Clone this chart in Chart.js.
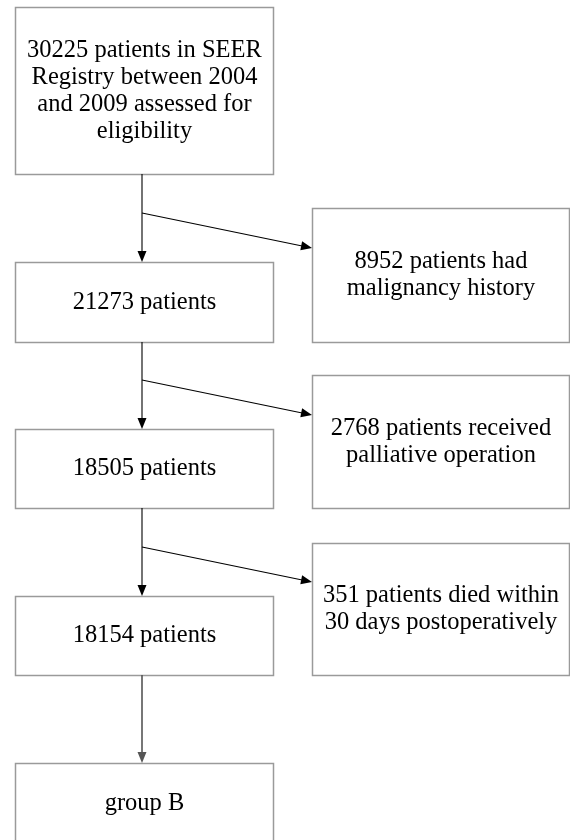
<!DOCTYPE html>
<html>
<head>
<meta charset="utf-8">
<script src="https://cdn.jsdelivr.net/npm/chart.js@4/dist/chart.umd.min.js"></script>
<style>
  html, body { margin: 0; padding: 0; background: #fff; }
  canvas { display: block; }
</style>
</head>
<body>
<canvas id="flow" width="570" height="840"></canvas>
<script>
'use strict';

// flow numbers
const remaining = [30225, 21273, 18505, 18154];
const excluded = [8952, 2768, 351];
const mainLabels = [
  ['30225 patients in SEER', 'Registry between 2004', 'and 2009 assessed for', 'eligibility'],
  ['21273 patients'],
  ['18505 patients'],
  ['18154 patients'],
  ['group B']
];
const sideLabels = [
  ['8952 patients had', 'malignancy history'],
  ['2768 patients received', 'palliative operation'],
  ['351 patients died within', '30 days postoperatively']
];

// layout in axis units (x: 0-570, y: 0-840 from top)
const mainBoxes = [
  {x0: 15, x1: 273, y0: 7, y1: 174},
  {x0: 15, x1: 273, y0: 262, y1: 342},
  {x0: 15, x1: 273, y0: 429, y1: 508},
  {x0: 15, x1: 273, y0: 596, y1: 675},
  {x0: 15, x1: 273, y0: 763, y1: 845}
];
const sideBoxes = [
  {x0: 312, x1: 569, y0: 208, y1: 342},
  {x0: 312, x1: 569, y0: 375, y1: 508},
  {x0: 312, x1: 569, y0: 543, y1: 675}
];
const stemX = 142;
const branchY = [213, 380, 547];
const branchTipY = [248, 415, 582];

const boxColor = '#9a9a9a';
const font = '24.5px "Liberation Serif", "Times New Roman", serif';
const lineGap = 27;

function arrow(ctx, x1, y1, x2, y2, color, width){
  const ang = Math.atan2(y2 - y1, x2 - x1);
  const len = 11, half = 4.5;
  ctx.strokeStyle = color;
  ctx.fillStyle = color;
  ctx.lineWidth = width;
  ctx.beginPath();
  ctx.moveTo(x1, y1);
  ctx.lineTo(x2 - Math.cos(ang) * len * 0.8, y2 - Math.sin(ang) * len * 0.8);
  ctx.stroke();
  ctx.beginPath();
  ctx.moveTo(x2, y2);
  ctx.lineTo(x2 - Math.cos(ang) * len + Math.sin(ang) * half, y2 - Math.sin(ang) * len - Math.cos(ang) * half);
  ctx.lineTo(x2 - Math.cos(ang) * len - Math.sin(ang) * half, y2 - Math.sin(ang) * len + Math.cos(ang) * half);
  ctx.closePath();
  ctx.fill();
}

const flowPlugin = {
  id: 'flowPlugin',
  afterDraw(chart){
    const ctx = chart.ctx;
    const xs = chart.scales.x, ys = chart.scales.y;
    const px = v => xs.getPixelForValue(v);
    const py = v => ys.getPixelForValue(v);

    const drawBox = (b, lines) => {
      const x0 = Math.round(px(b.x0)) + 0.5, x1 = Math.round(px(b.x1)) + 0.5;
      const y0 = Math.round(py(b.y0)) + 0.5, y1 = Math.round(py(b.y1)) + 0.5;
      ctx.strokeStyle = boxColor;
      ctx.lineWidth = 1.5;
      ctx.strokeRect(x0, y0, x1 - x0, y1 - y0);
      ctx.fillStyle = '#000';
      ctx.font = font;
      ctx.textAlign = 'center';
      ctx.textBaseline = 'middle';
      const cx = (x0 + x1) / 2;
      // last box runs off the page, so centre its text on the visible part
      const cy = (b.y1 > 840 ? (y0 + py(b.y0 + 80)) / 2 : (y0 + y1) / 2);
      const top = cy - (lines.length - 1) * lineGap / 2;
      lines.forEach((t, i) => ctx.fillText(t, cx, top + i * lineGap));
    };

    ctx.save();
    mainBoxes.forEach((b, i) => drawBox(b, mainLabels[i]));
    sideBoxes.forEach((b, i) => drawBox(b, sideLabels[i]));

    // vertical arrows between main boxes
    for(let i = 0; i < mainBoxes.length - 1; i++){
      const last = i === mainBoxes.length - 2;
      arrow(ctx, px(stemX), py(mainBoxes[i].y1), px(stemX), py(mainBoxes[i + 1].y0),
        last ? '#555' : '#000', last ? 1.6 : 1.1);
    }
    // side arrows to excluded boxes
    branchY.forEach((y, i) => {
      arrow(ctx, px(stemX), py(y), px(sideBoxes[i].x0), py(branchTipY[i]), '#000', 1.1);
    });
    ctx.restore();
  }
};

new Chart(document.getElementById('flow'), {
  type: 'scatter',
  data: {
    datasets: [{
      label: 'remaining',
      data: remaining.map((v, i) => ({x: stemX, y: (mainBoxes[i].y0 + mainBoxes[i].y1) / 2})),
      pointRadius: 0
    }, {
      label: 'excluded',
      data: excluded.map((v, i) => ({x: (sideBoxes[i].x0 + sideBoxes[i].x1) / 2, y: (sideBoxes[i].y0 + sideBoxes[i].y1) / 2})),
      pointRadius: 0
    }]
  },
  options: {
    responsive: false,
    animation: false,
    devicePixelRatio: 1,
    layout: { padding: 0 },
    plugins: { legend: { display: false }, tooltip: { enabled: false } },
    scales: {
      x: { type: 'linear', min: 0, max: 570, display: false },
      y: { type: 'linear', min: 0, max: 840, reverse: true, display: false }
    }
  },
  plugins: [flowPlugin]
});
</script>
</body>
</html>
